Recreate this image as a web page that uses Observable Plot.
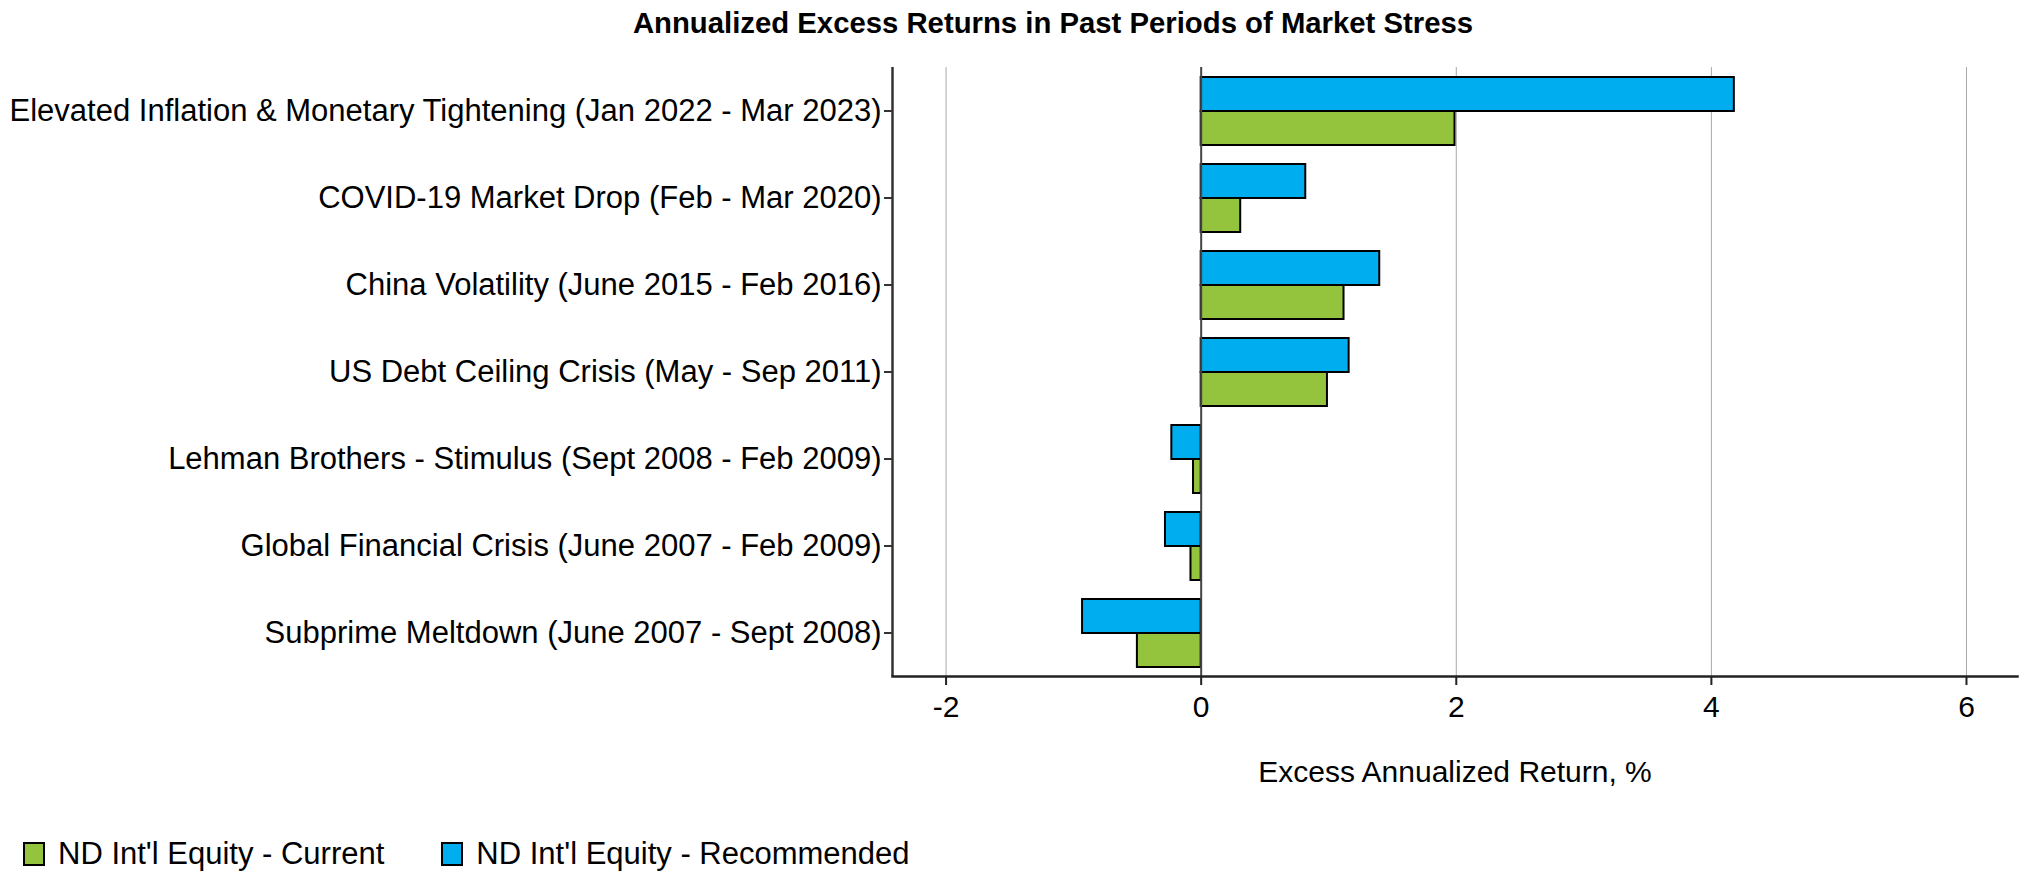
<!DOCTYPE html>
<html>
<head>
<meta charset="utf-8">
<script src="https://cdn.jsdelivr.net/npm/d3@7"></script>
<script src="https://cdn.jsdelivr.net/npm/@observablehq/plot@0.6"></script>
<style>
  body { margin: 0; background: #fff; font-family: "Liberation Sans", Arial, sans-serif; }
  #wrap { position: relative; width: 2024px; height: 872px; overflow: hidden; }
  #title { position: absolute; left: 0; top: 6px; width: 2106px; text-align: center; font-weight: bold; font-size: 29.3px; line-height: 34px; color: #000; }
  #chart { position: absolute; left: 0; top: 0; }
  #legend { position: absolute; left: 23px; top: 838px; height: 32px; display: flex; align-items: center; font-size: 31px; color: #000; }
  .item { display: flex; align-items: center; margin-right: 57px; }
  .sw { width: 18px; height: 20px; border: 2px solid #000; margin-right: 13px; }
</style>
</head>
<body>
<div id="wrap">
  <div id="chart"></div>
  <div id="title">Annualized Excess Returns in Past Periods of Market Stress</div>
  <div id="legend"></div>
</div>
<script>
// ---- data ----
const periods = [
  "Elevated Inflation & Monetary Tightening (Jan 2022 - Mar 2023)",
  "COVID-19 Market Drop (Feb - Mar 2020)",
  "China Volatility (June 2015 - Feb 2016)",
  "US Debt Ceiling Crisis (May - Sep 2011)",
  "Lehman Brothers - Stimulus (Sept 2008 - Feb 2009)",
  "Global Financial Crisis (June 2007 - Feb 2009)",
  "Subprime Meltdown (June 2007 - Sept 2008)"
];
const recommended = [4.18, 0.82, 1.40, 1.16, -0.23, -0.28, -0.93];
const current = [1.99, 0.31, 1.12, 0.99, -0.06, -0.08, -0.50];
const seriesNames = ["ND Int'l Equity - Current", "ND Int'l Equity - Recommended"];
const seriesColors = ["#94C43D", "#00AEEF"];
const xTicks = [-2, 0, 2, 4, 6];
const gridTicks = [-2, 2, 4, 6];
const xDomain = [-2.42, 6.4];
const xLabel = "Excess Annualized Return, %";

const rows = [];
periods.forEach((p, i) => {
  rows.push({period: p, series: seriesNames[1], value: recommended[i]});
  rows.push({period: p, series: seriesNames[0], value: current[i]});
});

function build(superFrame) {
  const marks = [
    Plot.ruleX(gridTicks, {stroke: "#a8a8a8", strokeWidth: 1}),
    Plot.barX(rows, {x: "value", y: "series", fy: "period", fill: "series", stroke: "#000", strokeWidth: 2}),
    Plot.ruleX([0], {stroke: "#444", strokeWidth: 2}),
    Plot.ruleX([xDomain[0]], {stroke: "#333", strokeWidth: 2.5}),
    Plot.axisFy({anchor: "left", tickSize: 8, tickPadding: 3, fontSize: 31, label: null, stroke: "#333", strokeWidth: 2}),
    Plot.axisX({anchor: "bottom", ticks: xTicks, tickSize: 9, tickPadding: 10, tickFormat: d => String(d), fontSize: 30,
      label: xLabel, labelAnchor: "center", labelArrow: "none", labelOffset: 105, stroke: "#222", strokeWidth: 2})
  ];
  if (superFrame) {
    marks.push(Plot.frame({anchor: "bottom", facet: "super", stroke: "#222", strokeWidth: 2.5}));
  } else {
    // fallback: bottom edge of a bar in the last facet
    marks.push(Plot.ruleX([xDomain[0]], {stroke: "#333", strokeWidth: 2.5}));
  }
  return Plot.plot({
    width: 2024,
    height: 800,
    marginLeft: 892,
    marginRight: 7,
    marginTop: 65,
    marginBottom: 122,
    style: {fontFamily: "Liberation Sans, Arial, sans-serif", fontSize: "30px", color: "#000", background: "transparent"},
    fy: {domain: periods, padding: 0, label: null},
    y: {domain: [seriesNames[1], seriesNames[0]], paddingInner: 0, paddingOuter: 0.264, axis: null},
    x: {domain: xDomain},
    color: {domain: seriesNames, range: seriesColors},
    marks
  });
}
let chart;
try { chart = build(true); } catch (e) { chart = build(false); }
document.getElementById("chart").appendChild(chart);

const legend = document.getElementById("legend");
seriesNames.forEach((n, i) => {
  const it = document.createElement("div");
  it.className = "item";
  const sw = document.createElement("div");
  sw.className = "sw";
  sw.style.background = seriesColors[i];
  const tx = document.createElement("span");
  tx.textContent = n;
  it.appendChild(sw); it.appendChild(tx);
  legend.appendChild(it);
});
</script>
</body>
</html>
